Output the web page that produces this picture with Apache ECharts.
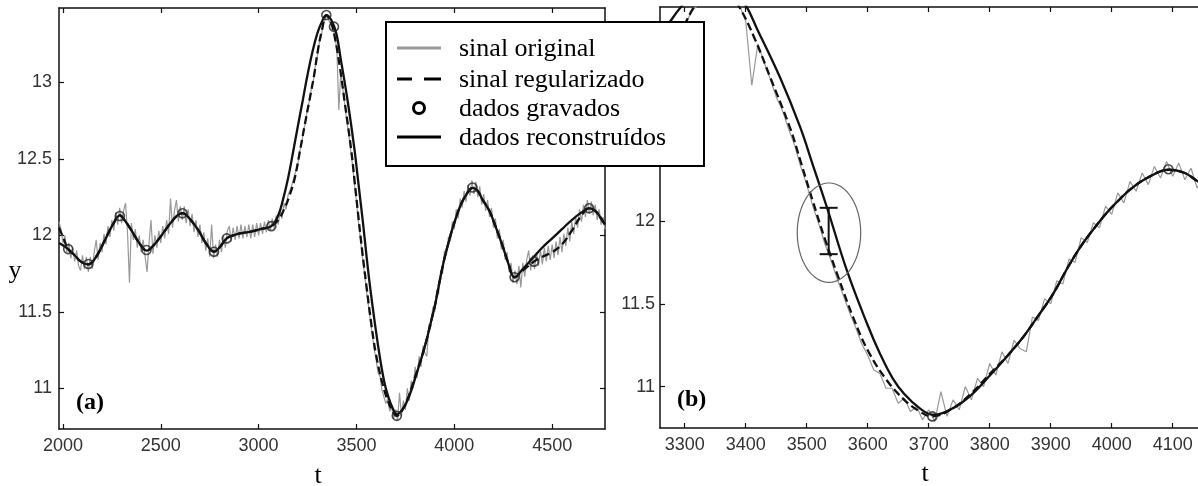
<!DOCTYPE html>
<html><head><meta charset="utf-8">
<script src="https://cdn.jsdelivr.net/npm/echarts@6/dist/echarts.min.js"></script>
<style>html,body{margin:0;padding:0;background:#fff}#c{width:1198px;height:486px}</style>
</head><body><div id="c"></div>
<script>
// ---- tick labels ----
const xTicksA = [2000, 2500, 3000, 3500, 4000, 4500];
const xTicksB = [3300, 3400, 3500, 3600, 3700, 3800, 3900, 4000, 4100];
const yTicks = [11, 11.5, 12, 12.5, 13];

// ---- legend names ----
const seriesNames = ['sinal original', 'sinal regularizado', 'dados gravados', 'dados reconstruídos'];

// ---- sinal original (noisy) ----
const sinalOriginal = [
[1980,12.09],[1990,12.04],[2000,11.95],[2010,12.00],[2020,11.89],[2030,11.95],[2040,11.85],[2050,11.92],[2060,11.83],[2070,11.90],
[2080,11.80],[2090,11.77],[2100,11.87],[2110,11.78],[2120,11.86],[2130,11.76],[2140,11.86],[2150,11.78],[2160,11.89],[2170,11.97],
[2180,11.84],[2190,11.95],[2200,11.89],[2210,12.01],[2220,11.94],[2230,12.06],[2240,11.99],[2250,12.10],[2260,12.03],[2270,12.15],
[2280,12.07],[2290,12.18],[2300,12.08],[2310,12.16],[2320,12.21],[2330,12.02],[2340,11.69],[2350,12.08],[2360,11.97],[2370,12.04],
[2380,11.92],[2390,12.00],[2400,11.89],[2410,11.97],[2420,11.86],[2430,11.76],[2440,11.95],[2450,12.10],[2460,11.88],[2470,12.00],
[2480,11.92],[2490,12.03],[2500,11.95],[2510,12.06],[2520,11.98],[2530,12.10],[2540,12.01],[2550,12.24],[2560,12.05],[2570,12.16],
[2580,12.23],[2590,12.09],[2600,12.19],[2610,12.10],[2620,12.19],[2630,12.08],[2640,12.17],[2650,12.06],[2660,12.14],[2670,12.02],
[2680,12.10],[2690,11.99],[2700,12.07],[2710,11.95],[2720,12.02],[2730,11.90],[2740,11.98],[2750,11.86],[2760,12.07],[2770,11.85],
[2780,11.94],[2790,11.86],[2800,11.97],[2810,11.89],[2820,12.00],[2830,11.92],[2840,12.03],[2850,12.06],[2860,11.96],[2870,12.05],
[2880,11.97],[2890,12.06],[2900,11.98],[2910,12.07],[2920,11.98],[2930,12.06],[2940,11.99],[2950,12.07],[2960,11.98],[2970,12.07],
[2980,11.99],[2990,12.08],[3000,12.00],[3010,12.08],[3020,12.01],[3030,12.09],[3040,12.02],[3050,12.10],[3060,12.03],[3070,12.11],
[3080,12.04],[3090,12.13],[3100,12.07],[3110,12.16],[3120,12.11],[3130,12.21],[3140,12.17],[3150,12.26],[3160,12.25],[3170,12.33],
[3180,12.34],[3190,12.42],[3200,12.46],[3210,12.55],[3220,12.60],[3230,12.69],[3240,12.74],[3250,12.83],[3260,12.88],[3270,12.96],
[3280,13.01],[3290,13.11],[3300,13.17],[3310,13.26],[3320,13.30],[3330,13.38],[3340,13.41],[3350,13.44],[3360,13.40],[3370,13.38],
[3380,13.36],[3390,13.30],[3400,13.21],[3410,12.82],[3420,13.07],[3430,12.96],[3440,12.86],[3450,12.75],[3460,12.67],[3470,12.56],
[3480,12.46],[3490,12.33],[3500,12.22],[3510,12.09],[3520,11.98],[3530,11.86],[3540,11.76],[3550,11.65],[3560,11.55],[3570,11.45],
[3580,11.36],[3590,11.26],[3600,11.19],[3610,11.10],[3620,11.08],[3630,10.99],[3640,10.99],[3650,10.90],[3660,10.93],[3670,10.85],
[3680,10.88],[3690,10.80],[3700,10.86],[3710,10.79],[3720,10.97],[3730,10.82],[3740,10.92],[3750,10.86],[3760,11.00],[3770,10.92],
[3780,11.05],[3790,11.00],[3800,11.14],[3810,11.07],[3820,11.21],[3830,11.14],[3840,11.28],[3850,11.23],[3860,11.21],[3870,11.42],
[3880,11.40],[3890,11.53],[3900,11.50],[3910,11.64],[3920,11.62],[3930,11.77],[3940,11.75],[3950,11.90],[3960,11.87],[3970,11.99],
[3980,11.96],[3990,12.09],[4000,12.04],[4010,12.17],[4020,12.11],[4030,12.24],[4040,12.18],[4050,12.29],[4060,12.22],[4070,12.33],
[4080,12.26],[4090,12.36],[4100,12.27],[4110,12.35],[4120,12.25],[4130,12.32],[4140,12.20],[4150,12.27],[4160,12.16],[4170,12.23],
[4180,12.12],[4190,12.18],[4200,12.05],[4210,12.11],[4220,11.98],[4230,12.04],[4240,11.91],[4250,11.97],[4260,11.84],[4270,11.89],
[4280,11.76],[4290,11.82],[4300,11.69],[4310,11.77],[4320,11.68],[4330,11.80],[4340,11.66],[4350,11.82],[4360,11.73],[4370,11.84],
[4380,11.90],[4390,11.77],[4400,11.87],[4410,11.78],[4420,11.89],[4430,11.80],[4440,11.90],[4450,11.81],[4460,11.92],[4470,11.83],
[4480,11.93],[4490,11.84],[4500,11.94],[4510,11.85],[4520,11.96],[4530,11.87],[4540,11.99],[4550,11.89],[4560,12.01],[4570,11.93],
[4580,12.05],[4590,11.96],[4600,12.09],[4610,12.01],[4620,12.12],[4630,12.05],[4640,12.17],[4650,12.09],[4660,12.20],[4670,12.12],
[4680,12.23],[4690,12.14],[4700,12.22],[4710,12.13],[4720,12.20],[4730,12.10],[4740,12.17],[4750,12.07],[4760,12.12],[4770,12.04]
];

// ---- sinal regularizado (dashed) ----
const sinalRegularizado = [
[1980,12.05],[2000,11.99],[2027,11.91],[2060,11.87],[2090,11.83],[2130,11.81],[2170,11.86],[2215,11.97],[2255,12.07],[2291,12.13],
[2320,12.09],[2351,12.03],[2390,11.95],[2427,11.90],[2460,11.93],[2504,12.00],[2550,12.08],[2585,12.13],[2611,12.145],[2640,12.12],
[2691,12.035],[2730,11.95],[2772,11.893],[2800,11.92],[2837,11.98],[2870,12.00],[2912,12.014],[2960,12.025],[3010,12.04],[3065,12.06],
[3100,12.10],[3130,12.17],[3158,12.26],[3184,12.37],[3209,12.536],[3234,12.71],[3260,12.885],[3284,13.05],[3303,13.21],[3325,13.35],
[3346,13.44],[3370,13.39],[3390,13.29],[3415,13.10],[3440,12.87],[3473,12.56],[3490,12.36],[3510,12.12],[3530,11.89],[3550,11.68],
[3576,11.42],[3600,11.22],[3631,11.04],[3660,10.92],[3685,10.85],[3705,10.82],[3740,10.87],[3770,10.96],[3801,11.08],[3830,11.19],
[3855,11.30],[3880,11.43],[3904,11.56],[3925,11.70],[3948,11.84],[3970,11.95],[3992,12.05],[4010,12.12],[4030,12.19],[4058,12.26],
[4094,12.31],[4120,12.29],[4141,12.24],[4179,12.16],[4210,12.06],[4247,11.93],[4275,11.82],[4308,11.726],[4350,11.77],[4407,11.828],
[4450,11.86],[4500,11.89],[4550,11.94],[4600,12.03],[4650,12.13],[4689,12.177],[4720,12.16],[4745,12.12],[4770,12.07]
];

// ---- dados gravados (circles) ----
const dadosGravados = [
[2027,11.91],[2130,11.813],[2291,12.126],[2427,11.904],[2611,12.144],[2772,11.893],[2837,11.98],[3065,12.06],
[3346,13.44],[3385,13.364],[3706,10.82],[4093,12.313],[4308,11.726],[4407,11.828],[4689,12.177]
];

// ---- dados reconstruídos (solid) ----
const dadosReconstruidos = [
[1980,11.95],[2000,11.935],[2027,11.91],[2060,11.87],[2090,11.83],[2130,11.81],[2170,11.86],[2215,11.97],[2255,12.07],[2291,12.13],
[2320,12.09],[2351,12.03],[2390,11.95],[2427,11.90],[2460,11.93],[2504,12.00],[2550,12.08],[2585,12.13],[2611,12.145],[2640,12.12],
[2691,12.035],[2730,11.95],[2772,11.893],[2800,11.92],[2837,11.98],[2870,12.00],[2912,12.014],[2960,12.025],[3010,12.04],[3065,12.06],
[3100,12.13],[3124,12.23],[3150,12.37],[3175,12.536],[3200,12.71],[3226,12.885],[3250,13.05],[3277,13.21],[3300,13.32],[3320,13.386],
[3346,13.44],[3370,13.41],[3397,13.32],[3420,13.15],[3456,12.87],[3489,12.57],[3510,12.34],[3533,12.085],[3566,11.70],[3599,11.38],
[3620,11.20],[3641,11.05],[3660,10.955],[3685,10.87],[3707,10.83],[3740,10.87],[3770,10.95],[3801,11.07],[3830,11.19],[3855,11.30],
[3880,11.43],[3904,11.56],[3925,11.70],[3948,11.84],[3970,11.95],[3992,12.05],[4010,12.12],[4030,12.19],[4058,12.26],[4094,12.31],
[4120,12.29],[4141,12.24],[4179,12.16],[4210,12.06],[4247,11.93],[4275,11.82],[4308,11.726],[4350,11.78],[4400,11.85],[4450,11.92],
[4500,11.98],[4550,12.04],[4600,12.10],[4650,12.15],[4689,12.177],[4720,12.16],[4745,12.12],[4770,12.07]
];

// ---- annotation in panel (b): error bar [t, low, high] and ellipse [t, v, halfWidth(t), halfHeight(v)] ----
const errorBar = [[3536, 11.80, 12.08]];
const ellipseMark = [[3536.5, 11.93, 52, 0.30]];

const chart = echarts.init(document.getElementById('c'), null, {renderer: 'canvas'});
const SANS = '"Liberation Sans", Arial, sans-serif';
const SERIF = '"Liberation Serif", "Times New Roman", serif';
const AX = '#111';

function xAxis(gi, pos, min, max, ticks, label) {
  return {type: 'value', gridIndex: gi, position: pos, min: min, max: max,
    axisLine: {show: true, onZero: false, lineStyle: {color: AX, width: 1.5}},
    axisTick: {show: true, inside: true, length: 5, customValues: ticks, lineStyle: {color: AX, width: 1.2}},
    axisLabel: {show: label, customValues: ticks, margin: 8, color: '#333', fontFamily: SANS, fontSize: 18, formatter: v => String(v)},
    splitLine: {show: false}};
}
function yAxis(gi, pos, min, max, ticks, label, margin) {
  return {type: 'value', gridIndex: gi, position: pos, min: min, max: max,
    axisLine: {show: true, onZero: false, lineStyle: {color: AX, width: 1.5}},
    axisTick: {show: true, inside: true, length: 5, customValues: ticks, lineStyle: {color: AX, width: 1.2}},
    axisLabel: {show: label, customValues: ticks, margin: margin, color: '#333', fontFamily: SANS, fontSize: 18, formatter: v => String(v)},
    splitLine: {show: false}};
}

function panelSeries(xi, yi) {
  return [
    {name: seriesNames[0], type: 'line', xAxisIndex: xi, yAxisIndex: yi, data: sinalOriginal, showSymbol: false, symbol: 'none',
      lineStyle: {color: '#999', width: 1.2}, z: 2, clip: true},
    {name: seriesNames[1], type: 'line', xAxisIndex: xi, yAxisIndex: yi, data: sinalRegularizado, showSymbol: false, symbol: 'none', smooth: 0.4,
      lineStyle: {color: '#111', width: 2.3, type: [8, 4]}, z: 3, clip: true},
    {name: seriesNames[3], type: 'line', xAxisIndex: xi, yAxisIndex: yi, data: dadosReconstruidos, showSymbol: false, symbol: 'none', smooth: 0.4,
      lineStyle: {color: '#111', width: 2.3}, z: 4, clip: true},
    {name: seriesNames[2], type: 'scatter', xAxisIndex: xi, yAxisIndex: yi, data: dadosGravados, symbol: 'circle', symbolSize: 9,
      itemStyle: {color: 'rgba(255,255,255,0)', borderColor: '#222', borderWidth: 1.6}, z: 5, clip: true}
  ];
}

const series = panelSeries(0, 0).concat(panelSeries(2, 2));
series.push({
  type: 'custom', xAxisIndex: 2, yAxisIndex: 2, data: ellipseMark, z: 6, silent: true,
  renderItem: function (params, api) {
    const t = api.value(0), v = api.value(1), dt = api.value(2), dv = api.value(3);
    const c = api.coord([t, v]);
    const e = api.coord([t + dt, v + dv]);
    const rx = Math.abs(e[0] - c[0]), ry = Math.abs(c[1] - e[1]);
    const pts = [];
    for (let i = 0; i < 90; i++) { const a = i / 90 * Math.PI * 2; pts.push([c[0] + rx * Math.cos(a), c[1] + ry * Math.sin(a)]); }
    return {type: 'polygon', shape: {points: pts}, style: {fill: 'none', stroke: '#666', lineWidth: 1.2}};
  }
});
series.push({
  type: 'custom', xAxisIndex: 2, yAxisIndex: 2, data: errorBar, z: 7, silent: true,
  renderItem: function (params, api) {
    const t = api.value(0);
    const lo = api.coord([t, api.value(1)]);
    const hi = api.coord([t, api.value(2)]);
    const st = {stroke: '#111', lineWidth: 2};
    return {type: 'group', children: [
      {type: 'line', shape: {x1: lo[0], y1: lo[1], x2: hi[0], y2: hi[1]}, style: st},
      {type: 'line', shape: {x1: lo[0] - 9, y1: lo[1], x2: lo[0] + 9, y2: lo[1]}, style: st},
      {type: 'line', shape: {x1: hi[0] - 9, y1: hi[1], x2: hi[0] + 9, y2: hi[1]}, style: st}
    ]};
  }
});

// legend (drawn as graphic, on top)
const LX = 386, LY = 22, LW = 318, LH = 144;
const rows = [48, 79, 108, 137];
const legendGraphic = [
  {type: 'rect', shape: {x: LX, y: LY, width: LW, height: LH}, style: {fill: '#fff', stroke: '#000', lineWidth: 2}, z: 100},
  {type: 'line', shape: {x1: 397, y1: rows[0], x2: 441, y2: rows[0]}, style: {stroke: '#999', lineWidth: 3}, z: 101},
  {type: 'line', shape: {x1: 397, y1: rows[1], x2: 412, y2: rows[1]}, style: {stroke: '#000', lineWidth: 3}, z: 101},
  {type: 'line', shape: {x1: 424, y1: rows[1], x2: 441, y2: rows[1]}, style: {stroke: '#000', lineWidth: 3}, z: 101},
  {type: 'circle', shape: {cx: 419, cy: rows[2], r: 5.5}, style: {fill: 'none', stroke: '#000', lineWidth: 3}, z: 101},
  {type: 'line', shape: {x1: 397, y1: rows[3], x2: 441, y2: rows[3]}, style: {stroke: '#000', lineWidth: 3}, z: 101}
];
seriesNames.forEach(function (n, i) {
  legendGraphic.push({type: 'text', x: 459, y: rows[i] + 1, z: 101,
    style: {text: n, fill: '#000', font: '26px ' + SERIF, verticalAlign: 'middle'}});
});

const labelGraphic = [
  {type: 'text', x: 76, y: 403, z: 50, style: {text: '(a)', fill: '#000', font: 'bold 24px ' + SERIF, verticalAlign: 'middle'}},
  {type: 'text', x: 677, y: 400, z: 50, style: {text: '(b)', fill: '#000', font: 'bold 24px ' + SERIF, verticalAlign: 'middle'}},
  {type: 'text', x: 318, y: 476, z: 50, style: {text: 't', fill: '#000', font: '26px ' + SERIF, align: 'center', verticalAlign: 'middle'}},
  {type: 'text', x: 925, y: 474, z: 50, style: {text: 't', fill: '#000', font: '26px ' + SERIF, align: 'center', verticalAlign: 'middle'}},
  {type: 'text', x: 15, y: 271, z: 50, style: {text: 'y', fill: '#000', font: '26px ' + SERIF, align: 'center', verticalAlign: 'middle'}}
];

chart.setOption({
  animation: false,
  backgroundColor: '#fff',
  grid: [
    {left: 59, top: 8, width: 546, height: 421},
    {left: 660, top: 7, width: 538, height: 421}
  ],
  xAxis: [
    xAxis(0, 'bottom', 1980, 4770, xTicksA, true),
    xAxis(0, 'top', 1980, 4770, xTicksA, false),
    xAxis(1, 'bottom', 3259.5, 4141.5, xTicksB, true),
    xAxis(1, 'top', 3259.5, 4141.5, xTicksB, false)
  ],
  yAxis: [
    yAxis(0, 'left', 10.734, 13.486, yTicks, true, 7),
    yAxis(0, 'right', 10.734, 13.486, yTicks, false, 7),
    yAxis(1, 'left', 10.75, 13.293, yTicks, true, 5)
  ],
  series: series,
  graphic: legendGraphic.concat(labelGraphic)
});
</script>
</body></html>
